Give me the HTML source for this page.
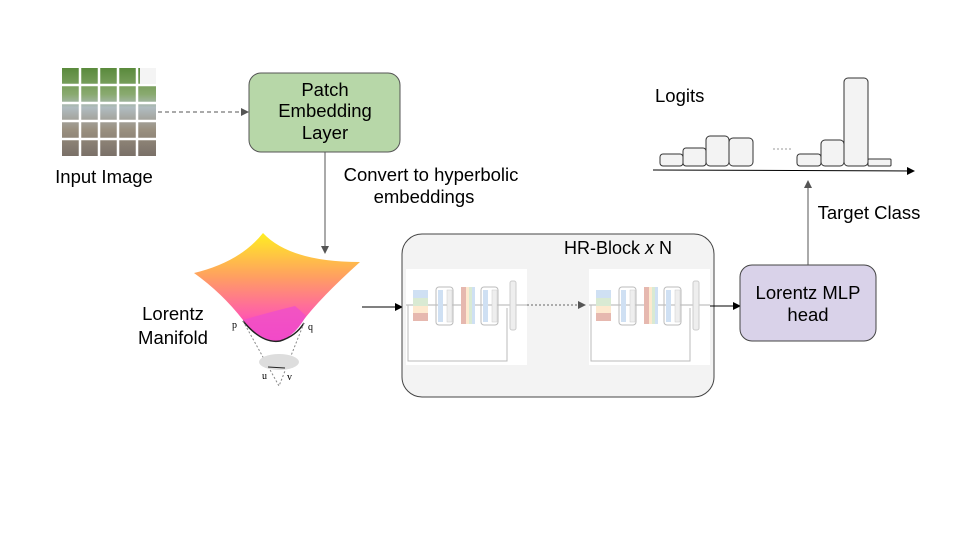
<!DOCTYPE html>
<html><head><meta charset="utf-8"><style>
html,body{margin:0;padding:0;background:#fff;}
svg{display:block;font-family:"Liberation Sans",Arial,sans-serif;}
</style></head><body>
<svg width="960" height="540" viewBox="0 0 960 540" xmlns="http://www.w3.org/2000/svg">
<defs>
<marker id="ah" markerWidth="8" markerHeight="8" refX="7" refY="4" orient="auto" markerUnits="userSpaceOnUse"><path d="M0,0 L8,4 L0,8 z" fill="#555"/></marker>
<marker id="ahb" markerWidth="8" markerHeight="8" refX="7" refY="4" orient="auto" markerUnits="userSpaceOnUse"><path d="M0,0 L8,4 L0,8 z" fill="#000"/></marker>
<linearGradient id="surf" x1="0" y1="0" x2="0" y2="1">
<stop offset="0" stop-color="#ffee22"/><stop offset="0.4" stop-color="#ffa060"/><stop offset="0.75" stop-color="#ff60a8"/><stop offset="1" stop-color="#ff22cc"/></linearGradient>
<linearGradient id="img" x1="0" y1="0" x2="0" y2="1">
<stop offset="0" stop-color="#5a8a3c"/><stop offset="0.3" stop-color="#8aaa70"/><stop offset="0.45" stop-color="#b0bcc0"/><stop offset="0.7" stop-color="#9a9080"/><stop offset="1" stop-color="#7a7068"/></linearGradient>
</defs>

<!-- Input image -->
<rect x="62" y="68" width="94" height="88" fill="url(#img)"/>
<g stroke="#fff" stroke-width="2.5">
<line x1="80" y1="66" x2="80" y2="158"/><line x1="99" y1="66" x2="99" y2="158"/><line x1="118" y1="66" x2="118" y2="158"/><line x1="137" y1="66" x2="137" y2="158"/>
<line x1="60" y1="85" x2="158" y2="85"/><line x1="60" y1="103" x2="158" y2="103"/><line x1="60" y1="121" x2="158" y2="121"/><line x1="60" y1="139" x2="158" y2="139"/>
</g>
<rect x="140" y="68" width="16" height="16" fill="#f4f4f4"/>
<text x="104" y="183" font-size="18.5" text-anchor="middle">Input Image</text>
<line x1="158" y1="112" x2="248" y2="112" stroke="#555" stroke-dasharray="4,3" marker-end="url(#ah)"/>

<!-- Patch embedding -->
<rect x="249" y="73" width="151" height="79" rx="12" fill="#b7d7a8" stroke="#555"/>
<text x="325" y="96" font-size="18.5" text-anchor="middle">Patch</text>
<text x="325" y="117" font-size="18.5" text-anchor="middle">Embedding</text>
<text x="325" y="139" font-size="18.5" text-anchor="middle">Layer</text>
<line x1="325" y1="152" x2="325" y2="253" stroke="#555" marker-end="url(#ah)"/>
<text x="431" y="181" font-size="18.5" text-anchor="middle">Convert to hyperbolic</text>
<text x="424" y="203" font-size="18.5" text-anchor="middle">embeddings</text>

<!-- Lorentz manifold -->
<text x="173" y="320" font-size="18.5" text-anchor="middle">Lorentz</text>
<text x="173" y="344" font-size="18.5" text-anchor="middle">Manifold</text>
<path d="M194,273 Q240,262 263,233 Q290,262 360,262 Q320,298 302,322 Q288,343 272,341 Q252,334 243,320 Q222,293 194,273 Z" fill="url(#surf)"/>
<path d="M243,320 Q270,312 295,306 Q300,310 306,316 Q292,342 272,341 Q252,334 243,320 Z" fill="#f050c8" opacity="0.85"/>
<path d="M243,321 Q262,344 280,341 Q296,336 304,323" fill="none" stroke="#222" stroke-width="1.5"/>
<g stroke="#888" stroke-dasharray="2,2" fill="none"><line x1="243" y1="321" x2="279" y2="386"/><line x1="304" y1="323" x2="279" y2="386"/></g>
<ellipse cx="279" cy="362" rx="20" ry="8" fill="#ddd"/>
<line x1="268" y1="367" x2="285" y2="368" stroke="#222"/>
<text x="232" y="328" font-size="10" font-family="Liberation Serif">p</text>
<text x="308" y="330" font-size="10" font-family="Liberation Serif">q</text>
<text x="262" y="379" font-size="10" font-family="Liberation Serif">u</text>
<text x="287" y="380" font-size="10" font-family="Liberation Serif">v</text>
<line x1="362" y1="307" x2="402" y2="307" stroke="#000" marker-end="url(#ahb)"/>

<!-- HR Block -->
<rect x="402" y="234" width="312" height="163" rx="20" fill="#f3f3f3" stroke="#444"/>
<text x="618" y="254" font-size="18" text-anchor="middle">HR-Block <tspan font-style="italic">x</tspan> N</text>
<g id="blk">
<rect x="406" y="269" width="121" height="96" fill="#fff"/>
<line x1="406" y1="305" x2="527" y2="305" stroke="#999" stroke-width="0.8"/>
<polyline points="408,305 408,361 507,361 507,308" fill="none" stroke="#bbb"/>
<rect x="413" y="290" width="15" height="8" fill="#cfe0f3"/><rect x="413" y="298" width="15" height="8" fill="#d9ead3"/><rect x="413" y="306" width="15" height="7" fill="#fde9cf"/><rect x="413" y="313" width="15" height="8" fill="#e6b8af"/>
<rect x="436" y="287" width="17" height="38" rx="3" fill="none" stroke="#bbb"/><rect x="438" y="290" width="5" height="32" fill="#cfe0f3"/><rect x="447" y="290" width="5" height="32" fill="#eee" stroke="#ccc" stroke-width="0.5"/>
<rect x="461" y="287" width="5" height="37" fill="#e6b8af"/><rect x="466" y="287" width="3" height="37" fill="#fde9cf"/><rect x="469" y="287" width="3" height="37" fill="#d9ead3"/><rect x="472" y="287" width="3" height="37" fill="#cfe0f3"/>
<rect x="481" y="287" width="17" height="38" rx="3" fill="none" stroke="#bbb"/><rect x="483" y="290" width="5" height="32" fill="#cfe0f3"/><rect x="492" y="290" width="5" height="32" fill="#eee" stroke="#ccc" stroke-width="0.5"/>
<rect x="510" y="281" width="6" height="49" rx="2" fill="#eee" stroke="#ccc"/>
</g>
<use href="#blk" transform="translate(183,0)"/>
<line x1="527" y1="305" x2="585" y2="305" stroke="#666" stroke-dasharray="2,2" marker-end="url(#ah)"/>
<line x1="710" y1="306" x2="740" y2="306" stroke="#000" marker-end="url(#ahb)"/>

<!-- MLP head -->
<rect x="740" y="265" width="136" height="76" rx="12" fill="#d9d2e9" stroke="#444"/>
<text x="808" y="299" font-size="18.5" text-anchor="middle">Lorentz MLP</text>
<text x="808" y="321" font-size="18.5" text-anchor="middle">head</text>
<line x1="808" y1="265" x2="808" y2="181" stroke="#555" marker-end="url(#ah)"/>
<text x="869" y="219" font-size="18.5" text-anchor="middle">Target Class</text>

<!-- Logits -->
<text x="655" y="102" font-size="18.5">Logits</text>
<g fill="#f3f3f3" stroke="#333">
<rect x="660" y="154" width="23" height="12" rx="3"/><rect x="683" y="148" width="23" height="18" rx="3"/><rect x="706" y="136" width="23" height="30" rx="4"/><rect x="729" y="138" width="24" height="28" rx="4"/>
<rect x="797" y="154" width="24" height="12" rx="3"/><rect x="821" y="140" width="23" height="26" rx="4"/><rect x="844" y="78" width="24" height="88" rx="4"/><rect x="868" y="159" width="23" height="7" rx="1"/>
</g>
<line x1="773" y1="149" x2="791" y2="149" stroke="#999" stroke-dasharray="2,2"/>
<line x1="653" y1="170" x2="914" y2="171" stroke="#000" marker-end="url(#ahb)"/>
</svg>
</body></html>
